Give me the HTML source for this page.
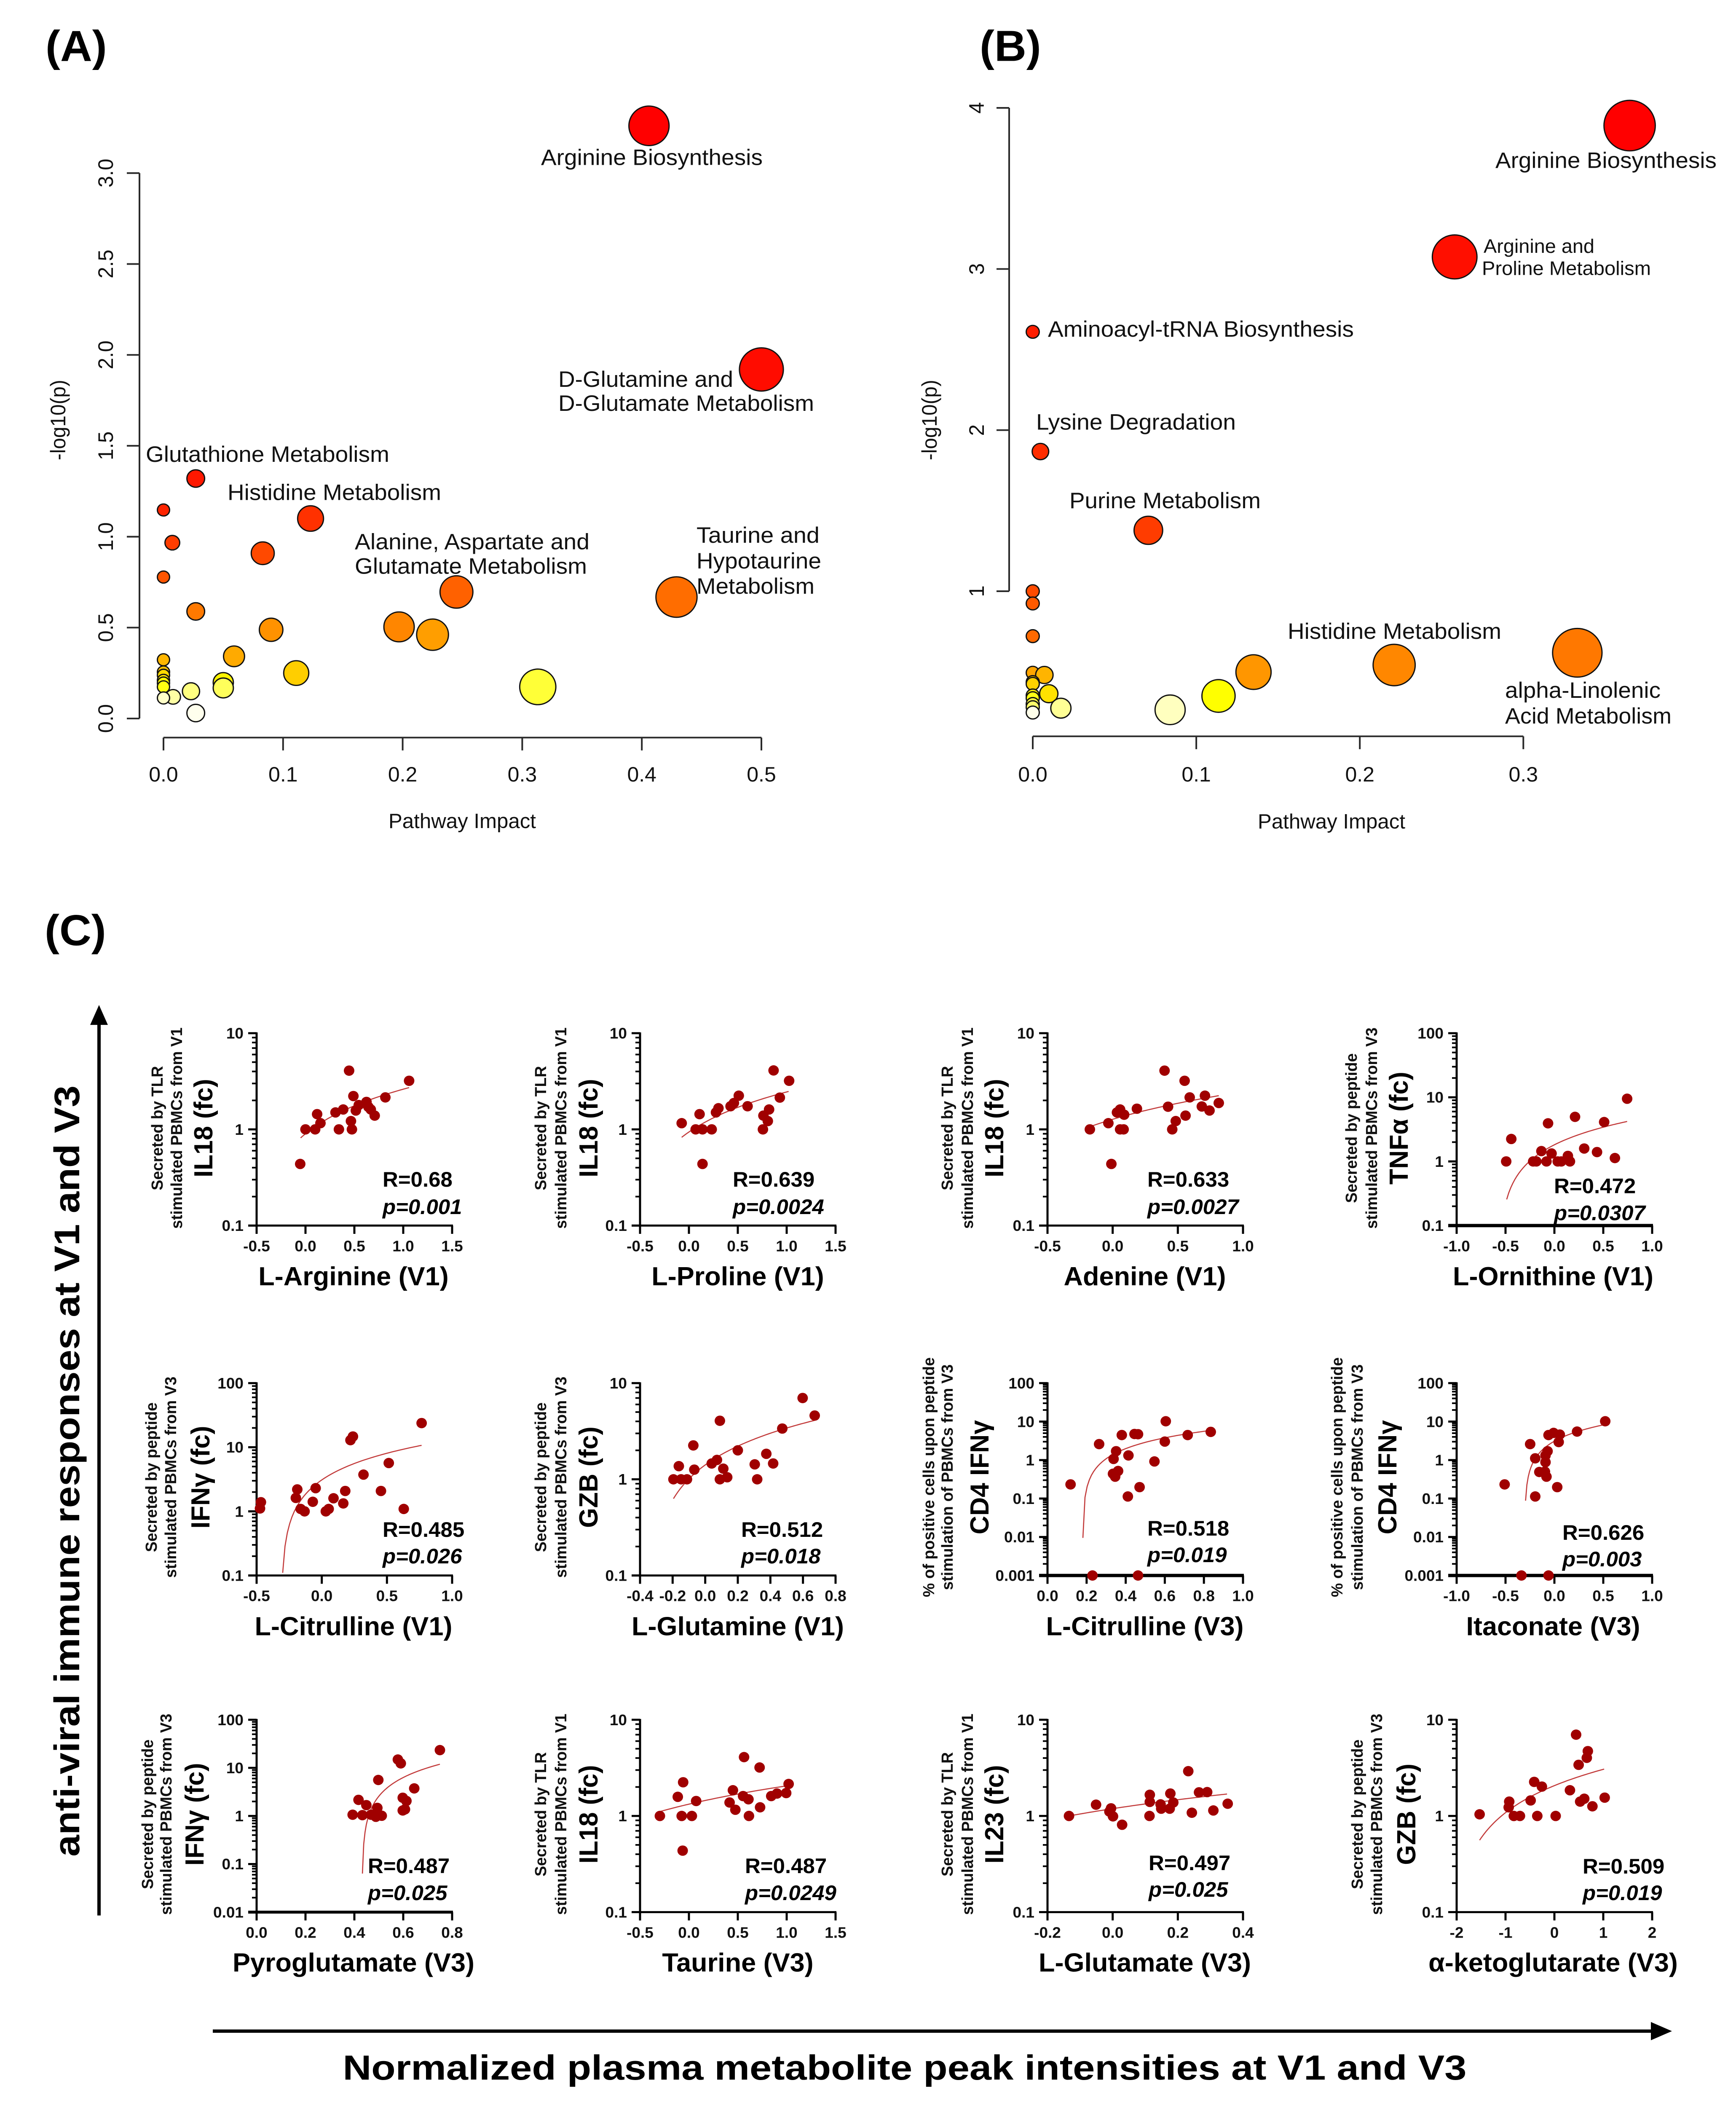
<!DOCTYPE html>
<html lang="en">
<head>
<meta charset="utf-8">
<title>Pathway and metabolite correlation figure</title>
<style>
html,body{margin:0;padding:0;background:#fff;width:100%;height:100%;overflow:hidden;}
svg{display:block;width:100vw;height:100vh;font-family:"Liberation Sans",sans-serif;}
.path-label{font-size:54px;fill:#111;}
.big-letter{font-size:105px;font-weight:bold;fill:#000;}
.r-axis-text{font-size:50px;fill:#111;}
.small-y{font-size:38px;font-weight:bold;fill:#111;text-anchor:middle;}
.big-y{font-size:62px;font-weight:bold;fill:#000;text-anchor:middle;}
.x-title{font-size:63px;font-weight:bold;fill:#000;text-anchor:middle;}
.stat{font-size:51px;font-weight:bold;fill:#000;}
.stat-p{font-size:51px;font-weight:bold;font-style:italic;fill:#000;}
</style>
</head>
<body>
<svg id="figure" xmlns="http://www.w3.org/2000/svg" viewBox="0 0 4120 5082" preserveAspectRatio="none">
<rect width="4120" height="5082" fill="#fff"/>

<text class="big-letter" x="108" y="147">(A)</text>
<text class="big-letter" x="2325" y="147">(B)</text>
<text class="big-letter" x="106" y="2280">(C)</text>

<g id="chartA"></g>
<g id="chartB"></g>
<g id="scatterRoot"></g>

<!-- Panel A text -->
<text class="r-axis-text" x="1097" y="1997" text-anchor="middle" textLength="350" lengthAdjust="spacingAndGlyphs">Pathway Impact</text>
<text class="r-axis-text" transform="translate(155 1013) rotate(-90)" text-anchor="middle" textLength="194" lengthAdjust="spacingAndGlyphs">-log10(p)</text>
<text class="path-label" x="1284" y="398" textLength="526" lengthAdjust="spacingAndGlyphs">Arginine Biosynthesis</text>
<text class="path-label" x="1325" y="933" textLength="415" lengthAdjust="spacingAndGlyphs">D-Glutamine and</text>
<text class="path-label" x="1325" y="991" textLength="607" lengthAdjust="spacingAndGlyphs">D-Glutamate Metabolism</text>
<text class="path-label" x="346" y="1114" textLength="578" lengthAdjust="spacingAndGlyphs">Glutathione Metabolism</text>
<text class="path-label" x="540" y="1206" textLength="507" lengthAdjust="spacingAndGlyphs">Histidine Metabolism</text>
<text class="path-label" x="842" y="1325" textLength="557" lengthAdjust="spacingAndGlyphs">Alanine, Aspartate and</text>
<text class="path-label" x="842" y="1384" textLength="551" lengthAdjust="spacingAndGlyphs">Glutamate Metabolism</text>
<text class="path-label" x="1653" y="1309" textLength="292" lengthAdjust="spacingAndGlyphs">Taurine and</text>
<text class="path-label" x="1653" y="1371" textLength="296" lengthAdjust="spacingAndGlyphs">Hypotaurine</text>
<text class="path-label" x="1653" y="1432" textLength="280" lengthAdjust="spacingAndGlyphs">Metabolism</text>

<!-- Panel B text -->
<text class="r-axis-text" x="3160" y="1998" text-anchor="middle" textLength="350" lengthAdjust="spacingAndGlyphs">Pathway Impact</text>
<text class="r-axis-text" transform="translate(2223 1013) rotate(-90)" text-anchor="middle" textLength="194" lengthAdjust="spacingAndGlyphs">-log10(p)</text>
<text class="path-label" x="3549" y="405" textLength="525" lengthAdjust="spacingAndGlyphs">Arginine Biosynthesis</text>
<text class="path-label" style="font-size:47px" x="3521" y="610" textLength="263" lengthAdjust="spacingAndGlyphs">Arginine and</text>
<text class="path-label" style="font-size:47px" x="3517" y="663" textLength="401" lengthAdjust="spacingAndGlyphs">Proline Metabolism</text>
<text class="path-label" x="2487" y="812" textLength="726" lengthAdjust="spacingAndGlyphs">Aminoacyl-tRNA Biosynthesis</text>
<text class="path-label" x="2459" y="1036" textLength="474" lengthAdjust="spacingAndGlyphs">Lysine Degradation</text>
<text class="path-label" x="2538" y="1226" textLength="454" lengthAdjust="spacingAndGlyphs">Purine Metabolism</text>
<text class="path-label" x="3056" y="1541" textLength="507" lengthAdjust="spacingAndGlyphs">Histidine Metabolism</text>
<text class="path-label" x="3572" y="1683" textLength="369" lengthAdjust="spacingAndGlyphs">alpha-Linolenic</text>
<text class="path-label" x="3572" y="1745" textLength="395" lengthAdjust="spacingAndGlyphs">Acid Metabolism</text>

<!-- Panel C global axes -->
<g>
<line x1="235" y1="4620" x2="235" y2="2460" stroke="#000" stroke-width="8"/>
<polygon points="235,2424 214,2472 256,2472" fill="#000"/>
</g>
<g>
<line x1="505" y1="4899" x2="3925" y2="4899" stroke="#000" stroke-width="8"/>
<polygon points="3968,4899 3918,4877 3918,4921" fill="#000"/>
</g>
<text transform="translate(188 3548) rotate(-90)" text-anchor="middle" font-size="84" font-weight="bold" textLength="1860" lengthAdjust="spacingAndGlyphs">anti-viral immune responses at V1 and V3</text>
<text x="2147" y="5016" text-anchor="middle" font-size="84" font-weight="bold" textLength="2667" lengthAdjust="spacingAndGlyphs">Normalized plasma metabolite peak intensities at V1 and V3</text>

<!-- Scatter panel text: row 1 -->
<g>
<text class="small-y" transform="translate(386 2721) rotate(-90)">Secreted by TLR</text>
<text class="small-y" transform="translate(432 2721) rotate(-90)">stimulated PBMCs from V1</text>
<text class="big-y" transform="translate(504 2721) rotate(-90)">IL18 (fc)</text>
<text class="x-title" x="839" y="3100">L-Arginine (V1)</text>
<text class="stat" x="908" y="2862">R=0.68</text>
<text class="stat-p" x="908" y="2928">p=0.001</text>

<text class="small-y" transform="translate(1296 2721) rotate(-90)">Secreted by TLR</text>
<text class="small-y" transform="translate(1344 2721) rotate(-90)">stimulated PBMCs from V1</text>
<text class="big-y" transform="translate(1418 2721) rotate(-90)">IL18 (fc)</text>
<text class="x-title" x="1751" y="3100">L-Proline (V1)</text>
<text class="stat" x="1739" y="2862">R=0.639</text>
<text class="stat-p" x="1739" y="2928">p=0.0024</text>

<text class="small-y" transform="translate(2261 2721) rotate(-90)">Secreted by TLR</text>
<text class="small-y" transform="translate(2309 2721) rotate(-90)">stimulated PBMCs from V1</text>
<text class="big-y" transform="translate(2381 2721) rotate(-90)">IL18 (fc)</text>
<text class="x-title" x="2717" y="3100">Adenine (V1)</text>
<text class="stat" x="2723" y="2862">R=0.633</text>
<text class="stat-p" x="2723" y="2928">p=0.0027</text>

<text class="small-y" transform="translate(3220 2721) rotate(-90)">Secreted by peptide</text>
<text class="small-y" transform="translate(3268 2721) rotate(-90)">stimulated PBMCs from V3</text>
<text class="big-y" transform="translate(3341 2721) rotate(-90)">TNFα (fc)</text>
<text class="x-title" x="3686" y="3100">L-Ornithine (V1)</text>
<text class="stat" x="3688" y="2878">R=0.472</text>
<text class="stat-p" x="3688" y="2943">p=0.0307</text>
</g>

<!-- row 2 -->
<g>
<text class="small-y" transform="translate(372 3563) rotate(-90)">Secreted by peptide</text>
<text class="small-y" transform="translate(418 3563) rotate(-90)">stimulated PBMCs from V3</text>
<text class="big-y" transform="translate(497 3563) rotate(-90)">IFNγ (fc)</text>
<text class="x-title" x="839" y="3944">L-Citrulline (V1)</text>
<text class="stat" x="908" y="3707">R=0.485</text>
<text class="stat-p" x="908" y="3771">p=0.026</text>

<text class="small-y" transform="translate(1296 3563) rotate(-90)">Secreted by peptide</text>
<text class="small-y" transform="translate(1344 3563) rotate(-90)">stimulated PBMCs from V3</text>
<text class="big-y" transform="translate(1418 3563) rotate(-90)">GZB (fc)</text>
<text class="x-title" x="1751" y="3944">L-Glutamine (V1)</text>
<text class="stat" x="1759" y="3707">R=0.512</text>
<text class="stat-p" x="1759" y="3771">p=0.018</text>

<text class="small-y" transform="translate(2217 3563) rotate(-90)">% of positive cells upon peptide</text>
<text class="small-y" transform="translate(2261 3563) rotate(-90)">stimulation of PBMCs from V3</text>
<text class="big-y" transform="translate(2346 3563) rotate(-90)">CD4 IFNγ</text>
<text class="x-title" x="2717" y="3944">L-Citrulline (V3)</text>
<text class="stat" x="2723" y="3704">R=0.518</text>
<text class="stat-p" x="2723" y="3768">p=0.019</text>

<text class="small-y" transform="translate(3186 3563) rotate(-90)">% of positive cells upon peptide</text>
<text class="small-y" transform="translate(3234 3563) rotate(-90)">stimulation of PBMCs from V3</text>
<text class="big-y" transform="translate(3314 3563) rotate(-90)">CD4 IFNγ</text>
<text class="x-title" x="3686" y="3944">Itaconate (V3)</text>
<text class="stat" x="3708" y="3714">R=0.626</text>
<text class="stat-p" x="3708" y="3778">p=0.003</text>
</g>

<!-- row 3 -->
<g>
<text class="small-y" transform="translate(363 4376) rotate(-90)">Secreted by peptide</text>
<text class="small-y" transform="translate(407 4376) rotate(-90)">stimulated PBMCs from V3</text>
<text class="big-y" transform="translate(483 4376) rotate(-90)">IFNγ (fc)</text>
<text class="x-title" x="839" y="4755">Pyroglutamate (V3)</text>
<text class="stat" x="873" y="4518">R=0.487</text>
<text class="stat-p" x="873" y="4583">p=0.025</text>

<text class="small-y" transform="translate(1296 4376) rotate(-90)">Secreted by TLR</text>
<text class="small-y" transform="translate(1344 4376) rotate(-90)">stimulated PBMCs from V1</text>
<text class="big-y" transform="translate(1418 4376) rotate(-90)">IL18 (fc)</text>
<text class="x-title" x="1751" y="4755">Taurine (V3)</text>
<text class="stat" x="1768" y="4518">R=0.487</text>
<text class="stat-p" x="1768" y="4583">p=0.0249</text>

<text class="small-y" transform="translate(2261 4376) rotate(-90)">Secreted by TLR</text>
<text class="small-y" transform="translate(2309 4376) rotate(-90)">stimulated PBMCs from V1</text>
<text class="big-y" transform="translate(2381 4376) rotate(-90)">IL23 (fc)</text>
<text class="x-title" x="2717" y="4755">L-Glutamate (V3)</text>
<text class="stat" x="2726" y="4511">R=0.497</text>
<text class="stat-p" x="2726" y="4575">p=0.025</text>

<text class="small-y" transform="translate(3234 4376) rotate(-90)">Secreted by peptide</text>
<text class="small-y" transform="translate(3280 4376) rotate(-90)">stimulated PBMCs from V3</text>
<text class="big-y" transform="translate(3359 4376) rotate(-90)">GZB (fc)</text>
<text class="x-title" x="3686" y="4755">α-ketoglutarate (V3)</text>
<text class="stat" x="3756" y="4519">R=0.509</text>
<text class="stat-p" x="3756" y="4583">p=0.019</text>
</g>
</svg>

<script>
// ---------- Panel A / B pathway data ----------
const impactA = [.406,.50,.027,.123,0,.0074,.083,0,.245,.429,.027,.197,.09,.225,.059,0,0,0,.111,0,0,.05,0,.313,.05,.023,.008,0,.027];
const logpA = [3.26,1.92,1.32,1.10,1.147,.967,.909,.778,.696,.668,.589,.504,.488,.461,.342,.323,.256,.238,.25,.21,.195,.198,.174,.174,.168,.15,.119,.113,.03];
const xTicksA = ['0.0','0.1','0.2','0.3','0.4','0.5'];
const yTicksA = ['0.0','0.5','1.0','1.5','2.0','2.5','3.0'];

const impactB = [.365,.258,0,.0047,.0707,0,0,0,.333,.221,0,.135,.0071,0,0,.1136,.0098,0,0,0,0,.0172,.084,0];
const logpB = [3.89,3.075,2.61,1.867,1.378,1.0,.924,.721,.618,.542,.494,.498,.48,.436,.425,.35,.364,.353,.336,.30,.28,.274,.264,.247];
const xTicksB = ['0.0','0.1','0.2','0.3'];
const yTicksB = ['1','2','3','4'];

// ---------- Panel C scatter data ----------
const ticksHalf15 = ['-0.5','0.0','0.5','1.0','1.5'];
const ticksHalf10 = ['-0.5','0.0','0.5','1.0'];
const ticksOne = ['-1.0','-0.5','0.0','0.5','1.0'];
const ticksGlutamine = ['-0.4','-0.2','0.0','0.2','0.4','0.6','0.8'];
const ticksFifth = ['0.0','0.2','0.4','0.6','0.8','1.0'];
const ticksPyro = ['0.0','0.2','0.4','0.6','0.8'];
const ticksGlutamate = ['-0.2','0.0','0.2','0.4'];
const ticksKeto = ['-2','-1','0','1','2'];
const decades01to10 = ['0.1','1','10'];
const decades01to100 = ['0.1','1','10','100'];
const decades001to100 = ['0.001','0.01','0.1','1','10','100'];
const decades01To100Pyro = ['0.01','0.1','1','10','100'];

const argX = [.446,1.06,.49,.817,.624,.545,.644,.668,.386,.515,.307,.119,.708,.465,.153,0,.099,.342,.475,-.054];
const argY = [4.08,3.2,2.22,2.15,1.93,1.79,1.71,1.61,1.61,1.57,1.5,1.44,1.39,1.22,1.16,1,1,1,1,.437];
const argFit = [-.05,.815,1.06,2.72];

const proX = [.866,1.025,.51,.93,.46,.426,.302,.6,.82,.277,.109,.762,.807,-.074,.757,.069,.139,.233,.139];
const proY = [4.1,3.2,2.24,2.14,1.88,1.74,1.66,1.74,1.61,1.5,1.44,1.39,1.22,1.16,1,1,1,1,.437];
const proFit = [-.074,.827,1.02,2.48];

const adeX = [.398,.552,.708,.591,.814,.186,.684,.743,.425,.057,.033,.088,.559,.484,-.033,-.175,.057,.084,.457,-.01];
const adeY = [4.08,3.2,2.24,2.15,1.88,1.64,1.73,1.57,1.72,1.61,1.5,1.42,1.39,1.22,1.16,1,1,1,1,.437];
const adeFit = [-.175,1.065,.814,2.24];

const ornX = [.744,.211,.509,-.065,-.441,.305,.436,-.133,-.029,.619,.138,-.493,-.217,-.185,-.081,.034,.07,.159];
const ornY = [9.5,4.96,4.11,3.93,2.24,1.59,1.4,1.45,1.33,1.13,1.22,1,1,1,1,1,1,1];
const ornFit = [-.488,.256,.744,4.2];

const citV1X = [.766,.239,.22,.514,.32,-.047,.454,.18,-.188,-.199,.09,-.069,.165,-.467,.629,-.474,-.162,-.132,.053,.031];
const citV1Y = [23.8,14.7,12.9,5.67,3.74,2.3,2.08,2.08,2.2,1.62,1.6,1.41,1.33,1.39,1.09,1.11,1.09,1,1.09,1];
const citV1Fit = [-.3,.11,.766,10.7];

const glnX = [.598,.672,.09,.473,-.073,.2,.375,.072,.304,.417,.04,-.162,-.067,.111,-.195,-.148,-.112,.09,.135,.319];
const glnY = [7,4.6,4.06,3.37,2.25,2,1.84,1.59,1.43,1.46,1.46,1.37,1.26,1.29,1,1,1,1,1.05,1];
const glnFit = [-.195,.63,.672,4.1];

const citV3X = [.605,.835,.717,.38,.445,.463,.6,.264,.351,.414,.338,.547,.361,.335,.346,.118,.471,.411,.23,.463];
const citV3Y = [10.2,5.4,4.47,4.47,4.76,4.7,3.02,2.6,1.7,1.32,1.07,.92,.52,.44,.37,.233,.198,.113,.001,.001];
const citV3Fit = [.181,.0095,.835,5.9];

const itaX = [.52,.232,-.06,-.008,.055,.044,-.248,-.07,-.091,-.196,-.091,-.154,-.097,-.081,-.509,.029,-.196,-.337,-.06];
const itaY = [10.2,5.5,4.47,5.08,4.6,2.94,2.6,1.7,1.32,1.11,.88,.49,.5,.37,.233,.198,.113,.001,.001];
const itaFit = [-.295,.088,.52,8.4];

const pyrX = [.75,.578,.59,.498,.645,.417,.598,.613,.449,.494,.607,.598,.393,.433,.468,.488,.512];
const pyrY = [23.4,14.9,12.4,5.6,3.74,2.16,2.39,2.05,1.68,1.47,1.37,1.3,1.06,1.04,1.06,.96,1.01];
const pyrFit = [.433,.0634,.75,11.9];

const tauX = [.564,.723,-.059,1.02,.45,-.114,.554,.609,.074,.842,.901,.995,.416,.728,.475,-.297,-.074,.03,.614,-.064];
const tauY = [4.09,3.19,2.24,2.15,1.85,1.58,1.61,1.49,1.43,1.61,1.71,1.73,1.38,1.23,1.16,1,1,1,1,.436];
const tauFit = [-.297,1.11,1.02,2.07];

const gluX = [.232,.29,.265,.177,.114,-.051,.353,.186,.114,.147,-.005,.175,.149,-.01,.309,.243,-.134,.113,.001,.029];
const gluY = [2.92,1.77,1.76,1.71,1.66,1.31,1.34,1.38,1.4,1.32,1.2,1.19,1.19,1.11,1.14,1.08,1,1,.99,.81];
const gluFit = [-.134,1.0,.351,1.69];

const ketoX = [.444,.684,.663,.496,-.413,-.256,.318,1.029,-.486,.611,.527,-.924,.778,-.935,-1.53,-.83,-.705,-.35,.026];
const ketoY = [7,4.72,4.02,3.4,2.26,2.02,1.85,1.55,1.45,1.51,1.41,1.41,1.26,1.23,1.04,1,1,1,1];
const ketoFit = [-1.53,.56,1.018,3.07];

// ---------- Layout (pixel geometry, separate from data) ----------
const SVGNS = 'http://www.w3.org/2000/svg';
const PLOT = 464;
const panels = [
 {id:'l-arginine-v1',  xs:argX, ys:argY, fit:argFit, xt:ticksHalf15, yt:decades01to10, left:609, top:2492, axisW:5},
 {id:'l-proline-v1',   xs:proX, ys:proY, fit:proFit, xt:ticksHalf15, yt:decades01to10, left:1519, top:2492, axisW:5},
 {id:'adenine-v1',     xs:adeX, ys:adeY, fit:adeFit, xt:ticksHalf10, yt:decades01to10, left:2486, top:2492, axisW:5},
 {id:'l-ornithine-v1', xs:ornX, ys:ornY, fit:ornFit, xt:ticksOne, yt:decades01to100, left:3457, top:2492, axisW:8},
 {id:'l-citrulline-v1',xs:citV1X, ys:citV1Y, fit:citV1Fit, xt:ticksHalf10, yt:decades01to100, left:609, top:3336, axisW:5},
 {id:'l-glutamine-v1', xs:glnX, ys:glnY, fit:glnFit, xt:ticksGlutamine, yt:decades01to10, left:1519, top:3336, axisW:5},
 {id:'l-citrulline-v3',xs:citV3X, ys:citV3Y, fit:citV3Fit, xt:ticksFifth, yt:decades001to100, left:2486, top:3336, axisW:8},
 {id:'itaconate-v3',   xs:itaX, ys:itaY, fit:itaFit, xt:ticksOne, yt:decades001to100, left:3457, top:3336, axisW:8},
 {id:'pyroglutamate-v3',xs:pyrX, ys:pyrY, fit:pyrFit, xt:ticksPyro, yt:decades01To100Pyro, left:609, top:4148, axisW:7},
 {id:'taurine-v3',     xs:tauX, ys:tauY, fit:tauFit, xt:ticksHalf15, yt:decades01to10, left:1519, top:4148, axisW:5},
 {id:'l-glutamate-v3', xs:gluX, ys:gluY, fit:gluFit, xt:ticksGlutamate, yt:decades01to10, left:2486, top:4148, axisW:5},
 {id:'a-ketoglutarate-v3',xs:ketoX, ys:ketoY, fit:ketoFit, xt:ticksKeto, yt:decades01to10, left:3457, top:4148, axisW:5}
];

function make(tag, parent, attrs, name){
  const el = document.createElementNS(SVGNS, tag);
  for (const k in attrs) el.setAttribute(k, attrs[k]);
  
  
  parent.appendChild(el);
  return el;
}
function label(parent, str, attrs, name){
  const el = make('text', parent, attrs, name);
  el.textContent = str;
  return el;
}

// MetaboAnalyst-like heat colours assigned by rank of -log10(p)
function heatColour(k, n){
  const j = Math.floor(n / 4);
  const i = n - j;
  if (k < i) return 'rgb(255,' + Math.round(255 * k / (i - 1)) + ',0)';
  const b = (k - i) / Math.max(1, j - 1) * (1 - 1 / j) + 1 / (2 * j);
  return 'rgb(255,255,' + Math.round(255 * b) + ')';
}

function drawPathwayChart(root, prefix, impact, logp, xTicks, yTicks, g){
  const xScale = v => g.x0 + (v - g.xMin) * g.xUnit;
  const yScale = v => g.y0 - (v - g.yMin) * g.yUnit;
  const radius = v => g.r0 + g.rK * Math.pow(v, g.rP);
  const axisColour = '#2a2a2a';

  const xFirst = parseFloat(xTicks[0]);
  const xLast = parseFloat(xTicks[xTicks.length - 1]);
  make('line', root, {x1:xScale(xFirst), x2:xScale(xLast), y1:g.xAxisY, y2:g.xAxisY, stroke:axisColour, 'stroke-width':4}, prefix + '-x-axis-line');
  xTicks.forEach(function(t){
    const x = xScale(parseFloat(t));
    make('line', root, {x1:x, x2:x, y1:g.xAxisY, y2:g.xAxisY + 31, stroke:axisColour, 'stroke-width':4}, prefix + '-x-tick');
    label(root, t, {x:x, y:g.xLabelY, 'text-anchor':'middle', 'font-size':50, fill:'#111'}, prefix + '-x-tick-label');
  });
  const yFirst = parseFloat(yTicks[0]);
  const yLast = parseFloat(yTicks[yTicks.length - 1]);
  make('line', root, {x1:g.yAxisX, x2:g.yAxisX, y1:yScale(yFirst), y2:yScale(yLast), stroke:axisColour, 'stroke-width':4}, prefix + '-y-axis-line');
  yTicks.forEach(function(t){
    const y = yScale(parseFloat(t));
    make('line', root, {x1:g.yAxisX - 30, x2:g.yAxisX, y1:y, y2:y, stroke:axisColour, 'stroke-width':4}, prefix + '-y-tick');
    label(root, t, {transform:'translate(' + g.yLabelX + ' ' + y + ') rotate(-90)', 'text-anchor':'middle', 'font-size':50, fill:'#111'}, prefix + '-y-tick-label');
  });

  const order = impact.map((_, i) => i).sort((a, b) => logp[b] - logp[a]);
  order.forEach(function(idx, rank){
    make('circle', root, {
      cx: xScale(impact[idx]),
      cy: yScale(logp[idx]),
      r: radius(impact[idx]),
      fill: heatColour(rank, order.length),
      stroke: '#111',
      'stroke-width': 3
    }, prefix + '-pathway-bubble');
  });
}

drawPathwayChart(document.getElementById('chartA'), 'a', impactA, logpA, xTicksA, yTicksA, {
  x0:388, xMin:0, xUnit:2838, y0:1733, yMin:0, yUnit:438.5,
  xAxisY:1779, xLabelY:1885, yAxisX:331, yLabelX:268, r0:14.5, rK:57, rP:.6
});
drawPathwayChart(document.getElementById('chartB'), 'b', impactB, logpB, xTicksB, yTicksB, {
  x0:2451, xMin:0, xUnit:3881, y0:1426, yMin:1, yUnit:388.6,
  xAxisY:1776, xLabelY:1885, yAxisX:2395, yLabelX:2335, r0:15.5, rK:79, rP:.55
});

function drawScatter(root, p){
  const g = make('g', root, {}, 'scatter-' + p.id);
  const right = p.left + PLOT;
  const bottom = p.top + PLOT;
  const xMin = parseFloat(p.xt[0]);
  const xMax = parseFloat(p.xt[p.xt.length - 1]);
  const logMin = Math.log10(parseFloat(p.yt[0]));
  const logMax = Math.log10(parseFloat(p.yt[p.yt.length - 1]));
  const xScale = v => p.left + (v - xMin) / (xMax - xMin) * PLOT;
  const yScale = v => bottom - (Math.log10(v) - logMin) / (logMax - logMin) * PLOT;

  make('line', g, {x1:p.left, x2:p.left, y1:p.top - 2, y2:bottom + 20, stroke:'#000', 'stroke-width':5}, 'y-axis-line');
  make('line', g, {x1:p.left - 20, x2:right + 2, y1:bottom, y2:bottom, stroke:'#000', 'stroke-width':p.axisW}, 'x-axis-line');

  p.xt.forEach(function(t){
    const x = xScale(parseFloat(t));
    make('line', g, {x1:x, x2:x, y1:bottom, y2:bottom + 20, stroke:'#000', 'stroke-width':5}, 'x-tick');
    label(g, t, {x:x, y:bottom + 62, 'text-anchor':'middle', 'font-size':37, 'font-weight':'bold', fill:'#111'}, 'x-tick-label');
  });
  p.yt.forEach(function(t, i){
    const v = parseFloat(t);
    const y = yScale(v);
    make('line', g, {x1:p.left - 20, x2:p.left, y1:y, y2:y, stroke:'#000', 'stroke-width':5}, 'y-tick');
    label(g, t, {x:p.left - 31, y:y + 13, 'text-anchor':'end', 'font-size':37, 'font-weight':'bold', fill:'#111'}, 'y-tick-label');
    if (i < p.yt.length - 1) {
      for (let m = 2; m <= 9; m++) {
        const my = yScale(v * m);
        make('line', g, {x1:p.left - 11, x2:p.left, y1:my, y2:my, stroke:'#000', 'stroke-width':4}, 'y-minor-tick');
      }
    }
  });

  // regression is linear in data space, so it bends on the log axis
  const pts = [];
  const samples = 60;
  for (let s = 0; s <= samples; s++) {
    const f = s / samples;
    const xv = p.fit[0] + (p.fit[2] - p.fit[0]) * f;
    const yv = p.fit[1] + (p.fit[3] - p.fit[1]) * f;
    pts.push(xScale(xv).toFixed(1) + ',' + yScale(yv).toFixed(1));
  }
  make('polyline', g, {points:pts.join(' '), fill:'none', stroke:'#c23a3a', 'stroke-width':2.6}, 'fit-line');

  p.xs.forEach(function(xv, i){
    make('circle', g, {cx:xScale(xv), cy:yScale(p.ys[i]), r:12.5, fill:'#a00000'}, 'data-point');
  });
}

const scatterRoot = document.getElementById('scatterRoot');
panels.forEach(function(p){ drawScatter(scatterRoot, p); });
</script>
</body>
</html>
